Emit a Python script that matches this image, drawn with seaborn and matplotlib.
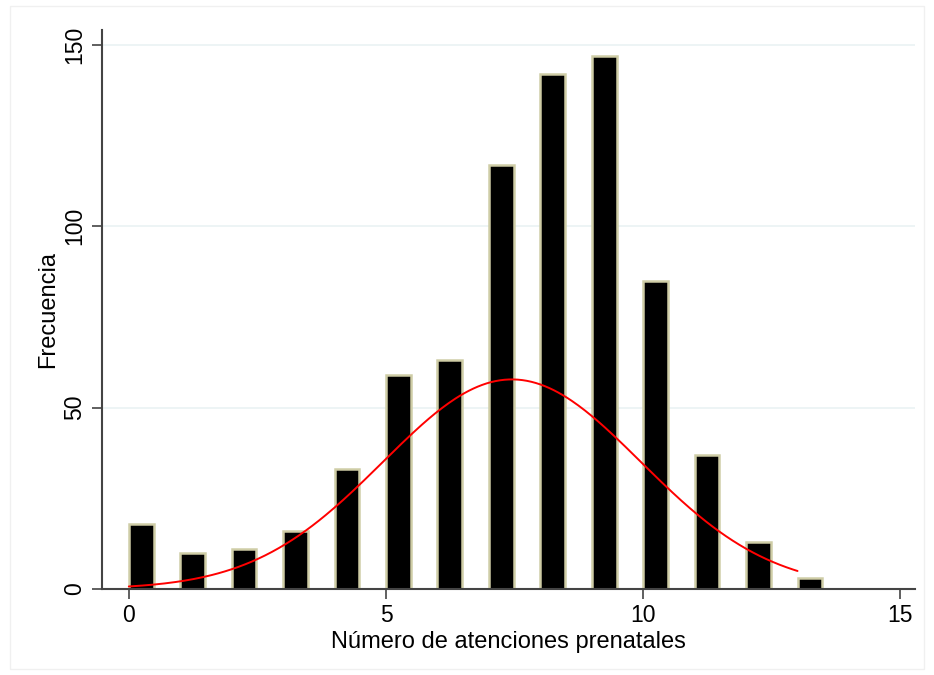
import numpy as np
import pandas as pd
import matplotlib
matplotlib.use('Agg')
import matplotlib.pyplot as plt
import seaborn as sns

atenciones = np.arange(0, 14)
frecuencia = [18, 10, 11, 16, 33, 59, 63, 117, 142, 147, 85, 37, 13, 3]
ancho = 13 / 27  # ancho de barra por defecto de Stata (27 bins sobre el rango 0-13)

df = pd.DataFrame({'x': atenciones + ancho / 2, 'n': frecuencia})

# Curva normal ajustada a los mismos datos
n_total = sum(frecuencia)
media = np.average(atenciones, weights=frecuencia)
sd = np.sqrt(np.average((atenciones - media) ** 2, weights=frecuencia))
xs = np.linspace(0, 13, 300)
ys = n_total * ancho * np.exp(-0.5 * ((xs - media) / sd) ** 2) / (sd * np.sqrt(2 * np.pi))
curva = pd.DataFrame({'x': xs, 'y': ys})

sns.set_style('white')
plt.rcParams['font.family'] = ['Liberation Sans', 'DejaVu Sans']
plt.rcParams['text.color'] = 'black'
plt.rcParams['axes.labelcolor'] = 'black'
plt.rcParams['xtick.color'] = 'black'
plt.rcParams['ytick.color'] = 'black'

fig = plt.figure(figsize=(9.34, 6.75), dpi=100)
ax = fig.add_axes([0.109, 0.1274, 0.871, 0.8282])

sns.barplot(data=df, x='x', y='n', native_scale=True, width=ancho,
            color='black', edgecolor='#CFCDA6', linewidth=1.8, ax=ax,
            saturation=1, zorder=2)
sns.lineplot(data=curva, x='x', y='y', color='red', linewidth=1.4, ax=ax, zorder=3)

ax.set_xlim(-0.525, 15.29)
ax.set_ylim(0, 154.1)
ax.set_xticks([0, 5, 10, 15])
ax.set_xticklabels(['0', '5', '10', '15'])
ax.set_yticks([0, 50, 100, 150])
ax.set_yticklabels(['0', '50', '100', '150'], rotation=90, va='center')
ax.tick_params(axis='both', direction='out', length=7, width=1.2, color='#444444',
               labelcolor='black', labelsize=16.5, pad=4, left=True, bottom=True)

ax.grid(axis='y', color='#EAF2F3', linewidth=1.2, zorder=0)
ax.set_axisbelow(True)
for s in ['top', 'right']:
    ax.spines[s].set_visible(False)
for s in ['left', 'bottom']:
    ax.spines[s].set_color('#444444')
    ax.spines[s].set_linewidth(1.5)

ax.set_xlabel('Número de atenciones prenatales', fontsize=17, labelpad=3, color='black')
ax.set_ylabel('Frecuencia', fontsize=17, labelpad=3, color='black')

# marco exterior tenue
fig.patches.append(plt.Rectangle((0.011, 0.009), 0.978, 0.982, transform=fig.transFigure,
                                 fill=False, edgecolor='#F0F0F0', linewidth=1))

fig.savefig('out.png', dpi=100)
